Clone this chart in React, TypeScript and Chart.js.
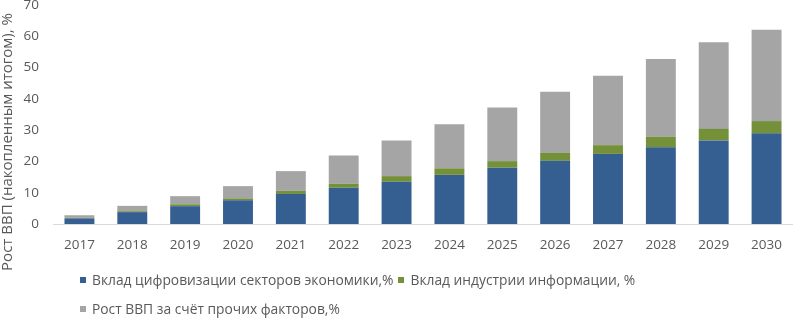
import React, { useEffect, useRef } from "react";
import { Chart, registerables } from "chart.js";

Chart.register(...registerables);

const categories = ["2017", "2018", "2019", "2020", "2021", "2022", "2023", "2024", "2025", "2026", "2027", "2028", "2029", "2030"];
const digitalization = [1.8, 3.8, 5.7, 7.6, 9.6, 11.6, 13.5, 15.7, 18.0, 20.2, 22.4, 24.5, 26.7, 29.0];
const infoIndustry = [0.2, 0.3, 0.6, 0.6, 1.0, 1.3, 1.8, 2.1, 2.1, 2.6, 2.8, 3.4, 3.7, 3.9];
const otherFactors = [0.8, 1.7, 2.6, 3.9, 6.3, 9.0, 11.4, 14.1, 17.1, 19.5, 22.2, 24.8, 27.7, 29.2];
const seriesNames = [
  "Вклад цифровизации секторов экономики,%",
  "Вклад индустрии информации, %",
  "Рост ВВП за счёт прочих факторов,%",
];
const yTitle = "Рост ВВП (накопленным итогом), %";

const COLORS = ["#355f91", "#74913a", "#a5a5a5"];
const TEXT = "#595959";
const FONT = "'Open Sans', 'Noto Sans', sans-serif";

export default function App() {
  const ref = useRef<HTMLCanvasElement>(null);

  useEffect(() => {
    if (!ref.current) return;
    const titlePlugin = {
      id: "yTitle",
      afterDraw(chart: any) {
        const ctx = chart.ctx;
        ctx.save();
        ctx.translate(8, 142);
        ctx.rotate(-Math.PI / 2);
        ctx.textAlign = "center";
        ctx.textBaseline = "middle";
        ctx.font = `15px ${FONT}`;
        ctx.fillStyle = TEXT;
        ctx.fillText(yTitle, 0, 0);
        ctx.restore();
      },
    };
    const chart = new Chart(ref.current, {
      type: "bar",
      data: {
        labels: categories,
        datasets: [
          { label: seriesNames[0], data: digitalization, backgroundColor: COLORS[0] },
          { label: seriesNames[1], data: infoIndustry, backgroundColor: COLORS[1] },
          { label: seriesNames[2], data: otherFactors, backgroundColor: COLORS[2] },
        ],
      },
      options: {
        animation: false,
        responsive: false,
        devicePixelRatio: 1,
        layout: { padding: { top: 5, left: 0, right: 0, bottom: 0 } },
        datasets: { bar: { barPercentage: 0.566, categoryPercentage: 1 } },
        plugins: { legend: { display: false }, tooltip: { enabled: false } },
        scales: {
          x: {
            stacked: true,
            grid: { display: false, drawTicks: false },
            border: { display: true, color: "#d9d9d9", width: 1 },
            ticks: { color: TEXT, font: { family: FONT, size: 13.5 }, padding: 13, maxRotation: 0 },
            afterFit(scale: any) {
              scale.height = 94;
            },
          },
          y: {
            stacked: true,
            min: 0,
            max: 70,
            grid: { display: false, drawTicks: false },
            border: { display: false },
            ticks: { stepSize: 10, color: TEXT, font: { family: FONT, size: 13.5 }, padding: 14 },
            afterFit(scale: any) {
              scale.width = 53;
              scale.paddingTop = 0;
              scale.paddingBottom = 0;
            },
          },
        },
      },
      plugins: [titlePlugin],
    });
    return () => chart.destroy();
  }, []);

  const legendItem = (i: number) => (
    <div style={{ display: "flex", alignItems: "center", marginRight: 5 }}>
      <span style={{ width: 6, height: 6, background: COLORS[i], marginRight: 6, display: "inline-block" }} />
      <span>{seriesNames[i]}</span>
    </div>
  );

  return (
    <div style={{ position: "fixed", left: 0, top: 0, width: 795, height: 318, background: "#fff" }}>
      <canvas ref={ref} width={795} height={318} style={{ display: "block" }} />
      <div
        style={{
          position: "absolute",
          left: 80,
          top: 270,
          fontFamily: FONT,
          fontSize: 13.8,
          color: TEXT,
          lineHeight: "20px",
          whiteSpace: "nowrap",
        }}
      >
        <div style={{ display: "flex" }}>
          {legendItem(0)}
          {legendItem(1)}
        </div>
        <div style={{ display: "flex", marginTop: 9 }}>{legendItem(2)}</div>
      </div>
    </div>
  );
}
